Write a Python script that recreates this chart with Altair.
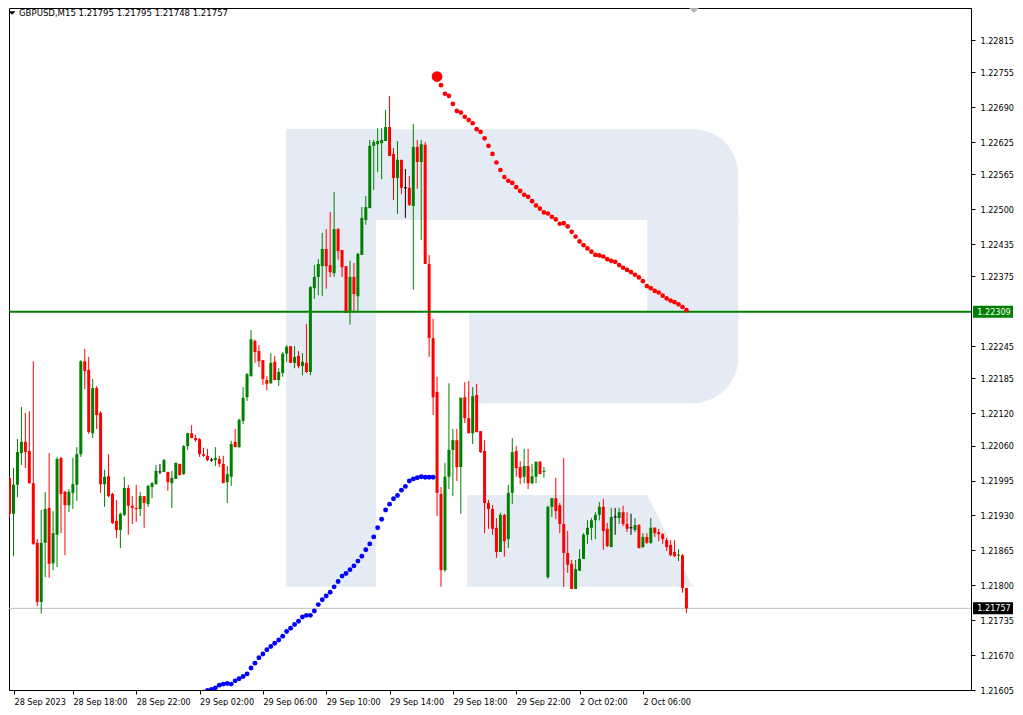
import altair as alt
import pandas as pd
import numpy as np

# ---------------- data (GBPUSD M15, bar 0 = 28 Sep 2023 14:00) ----------------
opens = [
    1.22000, 1.21933, 1.21987, 1.22046, 1.22067, 1.22050, 1.21990, 1.21879, 1.21769, 1.21879,
    1.21944, 1.21841, 1.21894, 1.22037, 1.21974, 1.21949, 1.21972, 1.21987, 1.22044, 1.22217,
    1.22201, 1.22083, 1.22167, 1.22121, 1.21988, 1.22003, 1.21970, 1.21920, 1.21903, 1.21931,
    1.21981, 1.21948, 1.21944, 1.21942, 1.21966, 1.21951, 1.21983, 1.21988, 1.22011, 1.22011,
    1.22011, 1.21990, 1.21998, 1.22026, 1.22007, 1.22059, 1.22083, 1.22074, 1.22072, 1.22044,
    1.22041, 1.22033, 1.22033, 1.22035, 1.22026, 1.21992, 1.22002, 1.22067, 1.22057, 1.22106,
    1.22150, 1.22189, 1.22255, 1.22236, 1.22219, 1.22182, 1.22176, 1.22216, 1.22182, 1.22195,
    1.22231, 1.22245, 1.22214, 1.22227, 1.22208, 1.22214, 1.22197, 1.22353, 1.22374, 1.22394,
    1.22426, 1.22396, 1.22381, 1.22463, 1.22424, 1.22394, 1.22309, 1.22374, 1.22338, 1.22415,
    1.22480, 1.22502, 1.22618, 1.22621, 1.22623, 1.22627, 1.22653, 1.22603, 1.22558, 1.22592,
    1.22540, 1.22540, 1.22506, 1.22616, 1.22588, 1.22620, 1.22398, 1.22260, 1.22160, 1.21970,
    1.21828, 1.22002, 1.22052, 1.22070, 1.22020, 1.22150, 1.22111, 1.22083, 1.22154, 1.22087,
    1.22050, 1.21953, 1.21942, 1.21907, 1.21862, 1.21931, 1.21886, 1.21972, 1.22050, 1.22020,
    1.22002, 1.22022, 1.21990, 1.22002, 1.22030, 1.22011, 1.21815, 1.21946, 1.21962, 1.21949,
    1.21914, 1.21860, 1.21840, 1.21793, 1.21827, 1.21849, 1.21894, 1.21907, 1.21921, 1.21931,
    1.21946, 1.21905, 1.21871, 1.21927, 1.21925, 1.21936, 1.21914, 1.21907, 1.21903, 1.21912,
    1.21871, 1.21890, 1.21879, 1.21907, 1.21899, 1.21895, 1.21884, 1.21875, 1.21862, 1.21855,
    1.21856, 1.21795,
]
highs = [
    1.22002, 1.22018, 1.22072, 1.22132, 1.22121, 1.22124, 1.22217, 1.21886, 1.21940, 1.21974,
    1.22046, 1.21938, 1.22039, 1.22039, 1.21976, 1.21979, 1.22037, 1.22057, 1.22219, 1.22240,
    1.22225, 1.22184, 1.22171, 1.22124, 1.22015, 1.22044, 1.21972, 1.21959, 1.21935, 1.22002,
    1.21987, 1.21966, 1.21987, 1.21974, 1.21966, 1.21987, 1.21992, 1.22024, 1.22026, 1.22035,
    1.22011, 1.22013, 1.22028, 1.22026, 1.22061, 1.22084, 1.22098, 1.22080, 1.22074, 1.22056,
    1.22054, 1.22037, 1.22057, 1.22041, 1.22041, 1.22022, 1.22069, 1.22091, 1.22110, 1.22169,
    1.22195, 1.22275, 1.22257, 1.22247, 1.22219, 1.22189, 1.22232, 1.22227, 1.22204, 1.22234,
    1.22247, 1.22245, 1.22245, 1.22236, 1.22232, 1.22286, 1.22357, 1.22396, 1.22407, 1.22456,
    1.22463, 1.22495, 1.22532, 1.22465, 1.22424, 1.22394, 1.22404, 1.22400, 1.22419, 1.22504,
    1.22525, 1.22629, 1.22629, 1.22651, 1.22651, 1.22685, 1.22711, 1.22614, 1.22627, 1.22592,
    1.22575, 1.22562, 1.22659, 1.22629, 1.22629, 1.22625, 1.22415, 1.22296, 1.22188, 1.21983,
    1.22028, 1.22176, 1.22091, 1.22091, 1.22149, 1.22178, 1.22180, 1.22169, 1.22175, 1.22087,
    1.22070, 1.21959, 1.21949, 1.21925, 1.21935, 1.21933, 1.21987, 1.22074, 1.22059, 1.22031,
    1.22054, 1.22054, 1.22026, 1.22030, 1.22031, 1.22020, 1.21948, 1.21962, 1.22000, 1.21953,
    1.22037, 1.21901, 1.21847, 1.21847, 1.21867, 1.21897, 1.21921, 1.21925, 1.21936, 1.21955,
    1.21961, 1.21916, 1.21944, 1.21944, 1.21944, 1.21948, 1.21936, 1.21933, 1.21925, 1.21914,
    1.21897, 1.21897, 1.21925, 1.21908, 1.21905, 1.21897, 1.21888, 1.21884, 1.21884, 1.21867,
    1.21858, 1.21795,
]
lows = [
    1.21927, 1.21854, 1.21964, 1.22024, 1.22018, 1.21989, 1.21875, 1.21761, 1.21747, 1.21815,
    1.21814, 1.21828, 1.21834, 1.21897, 1.21856, 1.21936, 1.21942, 1.21957, 1.22039, 1.22165,
    1.22082, 1.22074, 1.22091, 1.21972, 1.21946, 1.21964, 1.21914, 1.21888, 1.21869, 1.21929,
    1.21894, 1.21914, 1.21918, 1.21929, 1.21907, 1.21946, 1.21962, 1.21988, 1.22007, 1.22011,
    1.21976, 1.21944, 1.21998, 1.22005, 1.22005, 1.22052, 1.22074, 1.22067, 1.22039, 1.22039,
    1.22031, 1.22030, 1.22022, 1.22020, 1.21990, 1.21953, 1.21985, 1.22057, 1.22056, 1.22100,
    1.22143, 1.22189, 1.22214, 1.22206, 1.22173, 1.22163, 1.22175, 1.22182, 1.22171, 1.22188,
    1.22216, 1.22214, 1.22204, 1.22204, 1.22191, 1.22195, 1.22191, 1.22333, 1.22340, 1.22338,
    1.22352, 1.22374, 1.22374, 1.22406, 1.22374, 1.22307, 1.22285, 1.22307, 1.22310, 1.22415,
    1.22471, 1.22502, 1.22536, 1.22569, 1.22556, 1.22627, 1.22599, 1.22517, 1.22491, 1.22528,
    1.22484, 1.22506, 1.22350, 1.22538, 1.22443, 1.22398, 1.22225, 1.22117, 1.21929, 1.21797,
    1.21825, 1.21979, 1.21966, 1.21994, 1.21933, 1.22102, 1.22083, 1.22063, 1.22085, 1.22046,
    1.21897, 1.21905, 1.21894, 1.21851, 1.21862, 1.21853, 1.21869, 1.21951, 1.22002, 1.21988,
    1.21990, 1.21979, 1.21988, 1.21990, 1.22007, 1.22000, 1.21812, 1.21927, 1.21923, 1.21897,
    1.21797, 1.21823, 1.21793, 1.21793, 1.21827, 1.21849, 1.21877, 1.21884, 1.21886, 1.21921,
    1.21866, 1.21871, 1.21871, 1.21894, 1.21914, 1.21910, 1.21899, 1.21894, 1.21899, 1.21869,
    1.21869, 1.21877, 1.21877, 1.21890, 1.21882, 1.21877, 1.21864, 1.21854, 1.21853, 1.21845,
    1.21786, 1.21748,
]
closes = [
    1.21933, 1.21987, 1.22048, 1.22067, 1.22048, 1.21990, 1.21877, 1.21769, 1.21879, 1.21942,
    1.21840, 1.21897, 1.22035, 1.21970, 1.21949, 1.21974, 1.21988, 1.22044, 1.22217, 1.22199,
    1.22085, 1.22167, 1.22117, 1.21988, 1.22002, 1.21966, 1.21916, 1.21903, 1.21933, 1.21981,
    1.21948, 1.21944, 1.21942, 1.21966, 1.21953, 1.21985, 1.21990, 1.22013, 1.22011, 1.22033,
    1.21992, 1.22000, 1.22028, 1.22005, 1.22059, 1.22083, 1.22074, 1.22070, 1.22044, 1.22041,
    1.22033, 1.22033, 1.22037, 1.22026, 1.21990, 1.22007, 1.22063, 1.22057, 1.22108, 1.22149,
    1.22193, 1.22258, 1.22234, 1.22217, 1.22184, 1.22175, 1.22214, 1.22182, 1.22197, 1.22231,
    1.22244, 1.22214, 1.22225, 1.22208, 1.22216, 1.22197, 1.22355, 1.22374, 1.22398, 1.22426,
    1.22394, 1.22383, 1.22463, 1.22422, 1.22392, 1.22307, 1.22374, 1.22342, 1.22417, 1.22484,
    1.22504, 1.22618, 1.22625, 1.22627, 1.22629, 1.22653, 1.22599, 1.22558, 1.22592, 1.22540,
    1.22540, 1.22508, 1.22616, 1.22588, 1.22621, 1.22398, 1.22260, 1.22150, 1.21972, 1.21828,
    1.22002, 1.22052, 1.22070, 1.22020, 1.22149, 1.22111, 1.22083, 1.22152, 1.22085, 1.22048,
    1.21953, 1.21942, 1.21905, 1.21862, 1.21931, 1.21882, 1.21972, 1.22048, 1.22018, 1.22000,
    1.22022, 1.21990, 1.22003, 1.22030, 1.22007, 1.22013, 1.21946, 1.21962, 1.21938, 1.21914,
    1.21860, 1.21838, 1.21793, 1.21830, 1.21849, 1.21894, 1.21907, 1.21921, 1.21931, 1.21946,
    1.21901, 1.21873, 1.21927, 1.21927, 1.21936, 1.21914, 1.21905, 1.21907, 1.21912, 1.21869,
    1.21890, 1.21879, 1.21907, 1.21897, 1.21895, 1.21886, 1.21871, 1.21856, 1.21854, 1.21857,
    1.21795, 1.21757,
]

# forecast dots (bar index of first dot + one value per bar)
red_big_index = 108
red_big_price = 1.22747
red_start = 109
red_dots = [
    1.22731, 1.22715, 1.22711, 1.22696, 1.22683, 1.22680, 1.22672, 1.22666, 1.22660, 1.22649,
    1.22644, 1.22632, 1.22618, 1.22603, 1.22587, 1.22573, 1.22560, 1.22553, 1.22549, 1.22541,
    1.22534, 1.22527, 1.22523, 1.22515, 1.22507, 1.22501, 1.22494, 1.22492, 1.22486, 1.22481,
    1.22473, 1.22474, 1.22468, 1.22458, 1.22449, 1.22440, 1.22433, 1.22427, 1.22421, 1.22415,
    1.22414, 1.22412, 1.22407, 1.22404, 1.22402, 1.22396, 1.22391, 1.22387, 1.22383, 1.22378,
    1.22373, 1.22366, 1.22357, 1.22353, 1.22348, 1.22345, 1.22339, 1.22334, 1.22330, 1.22327,
    1.22323, 1.22318, 1.22312,
]
blue_start = 49
blue_dots = [
    1.21601, 1.21604, 1.21606, 1.21609, 1.21614, 1.21616, 1.21617, 1.21616, 1.21622, 1.21626,
    1.21630, 1.21635, 1.21646, 1.21655, 1.21665, 1.21672, 1.21680, 1.21686, 1.21692, 1.21698,
    1.21705, 1.21714, 1.21720, 1.21727, 1.21733, 1.21741, 1.21744, 1.21744, 1.21752, 1.21764,
    1.21773, 1.21780, 1.21787, 1.21797, 1.21807, 1.21817, 1.21822, 1.21829, 1.21836, 1.21845,
    1.21854, 1.21866, 1.21877, 1.21890, 1.21907, 1.21923, 1.21940, 1.21951, 1.21961, 1.21967,
    1.21977, 1.21984, 1.21994, 1.21998, 1.22000, 1.22002, 1.22001, 1.22001, 1.22001,
]

tick_index = [0, 16, 32, 48, 64, 80, 96, 112, 128, 144, 160]
tick_labels = ["28 Sep 2023", "28 Sep 18:00", "28 Sep 22:00", "29 Sep 02:00", "29 Sep 06:00",
               "29 Sep 10:00", "29 Sep 14:00", "29 Sep 18:00", "29 Sep 22:00", "2 Oct 02:00",
               "2 Oct 06:00"]
price_ticks = [1.22815, 1.22755, 1.22690, 1.22625, 1.22565, 1.22500, 1.22435, 1.22375,
               1.22245, 1.22185, 1.22120, 1.22060, 1.21995, 1.21930, 1.21865, 1.21800,
               1.21735, 1.21670, 1.21605]

level_price = 1.22309
bid_price = 1.21757
title_text = "GBPUSD,M15  1.21795 1.21795 1.21748 1.21757"

# watermark "R" pieces, in bar-index / price units
wm_stem = {"x1": [69.9], "x2": [92.6], "y1": [1.21797], "y2": [1.22649]}
wm_top = {"x1": [69.9], "x2": [184.1], "y1": [1.22480], "y2": [1.22649]}
wm_right = {"x1": [161.1], "x2": [184.1], "y1": [1.22300], "y2": [1.22490]}
wm_bottom = {"x1": [116.1], "x2": [184.1], "y1": [1.22139], "y2": [1.22310]}
wm_leg = {"p": [1.21968, 1.21797], "xl": [115.6, 115.6], "xr": [161.1, 172.6]}

# ---------------- layout ----------------
W, H = 962, 682
X_DOM = [1.125, 1.125 + W / 4.0]
Y_DOM = [1.21605, 1.228746]
FONT = "DejaVu Sans Condensed, Liberation Sans, sans-serif"
WM = "#E5EBF4"
GREEN = "#008000"
RED = "#FF0000"

xs = alt.Scale(domain=X_DOM, nice=False, zero=False)
ys = alt.Scale(domain=Y_DOM, nice=False, zero=False)
one_px = (Y_DOM[1] - Y_DOM[0]) / H

cdf = pd.DataFrame({"i": np.arange(len(opens)), "o": opens, "h": highs, "l": lows, "c": closes})
cdf["dir"] = np.where(cdf.c > cdf.o, "up", np.where(cdf.c < cdf.o, "down", "flat"))
top = np.maximum(cdf.o, cdf.c)
bot = np.minimum(cdf.o, cdf.c)
mid = (top + bot) / 2
thin = (top - bot) < one_px
cdf["top"] = np.where(thin, mid + one_px / 2, top)
cdf["bot"] = np.where(thin, mid - one_px / 2, bot)

color = alt.Color("dir:N", scale=alt.Scale(domain=["up", "down", "flat"],
                                           range=[GREEN, RED, "#000000"]), legend=None)

tick_vals = [max(t, X_DOM[0]) for t in tick_index]
label_expr = "''"
for v, lab in reversed(list(zip(tick_vals, tick_labels))):
    label_expr = f"(abs(datum.value - {v}) < 0.5) ? '{lab}' : ({label_expr})"

X_AXIS = alt.Axis(values=tick_vals, labelExpr=label_expr, labelAlign="left", labelBaseline="top",
                  labelPadding=3, tickSize=4, labelFont=FONT, labelFontSize=9, labelColor="black",
                  tickColor="black", domainColor="black", grid=False, title=None,
                  labelFlush=False, labelOverlap=False, labelBound=False)
Y_AXIS = alt.Axis(orient="right", values=price_ticks, format=".5f", tickSize=4, labelPadding=5,
                  labelFont=FONT, labelFontSize=9, labelColor="black", tickColor="black",
                  domainColor="black", grid=False, title=None, labelFlush=False,
                  labelOverlap=False, labelBound=False)


def X(field):
    return alt.X(field, scale=xs, axis=X_AXIS)


def Y(field):
    return alt.Y(field, scale=ys, axis=Y_AXIS)


def wm_rect(d, **kw):
    return alt.Chart(pd.DataFrame(d)).mark_rect(color=WM, clip=True, **kw).encode(
        x=X("x1:Q"), x2="x2:Q", y=Y("y1:Q"), y2="y2:Q")


layers = [
    wm_rect(wm_stem),
    wm_rect(wm_top, cornerRadiusTopRight=84),
    wm_rect(wm_right),
    wm_rect(wm_bottom, cornerRadiusBottomRight=84),
    alt.Chart(pd.DataFrame(wm_leg)).mark_area(orient="horizontal", color=WM, clip=True).encode(
        y=Y("p:Q"), x=X("xl:Q"), x2="xr:Q"),
    alt.Chart(pd.DataFrame({"p": [bid_price]})).mark_rule(color="#C0C0C0", strokeWidth=1).encode(
        y=Y("p:Q")),
    alt.Chart(cdf).mark_rule(strokeWidth=1, clip=True).encode(
        x=X("i:Q"), y=Y("h:Q"), y2="l:Q", color=color),
    alt.Chart(cdf).mark_bar(size=3, clip=True).encode(
        x=X("i:Q"), y=Y("top:Q"), y2="bot:Q", color=color),
    alt.Chart(pd.DataFrame({"p": [level_price]})).mark_rule(color=GREEN, strokeWidth=2).encode(
        y=Y("p:Q")),
    alt.Chart(pd.DataFrame({"i": np.arange(blue_start, blue_start + len(blue_dots)), "p": blue_dots}))
    .mark_circle(size=24, color="#0000FF", opacity=1, clip=True).encode(x=X("i:Q"), y=Y("p:Q")),
    alt.Chart(pd.DataFrame({"i": np.arange(red_start, red_start + len(red_dots)), "p": red_dots}))
    .mark_circle(size=22, color=RED, opacity=1, clip=True).encode(x=X("i:Q"), y=Y("p:Q")),
    alt.Chart(pd.DataFrame({"i": [red_big_index], "p": [red_big_price]}))
    .mark_circle(size=115, color=RED, opacity=1, clip=True).encode(x=X("i:Q"), y=Y("p:Q")),
]

levels = pd.DataFrame({"p": [level_price, bid_price], "bg": [GREEN, "#000000"]})
levels["lo"] = levels.p - 6 * one_px
levels["hi"] = levels.p + 6 * one_px
layers.append(alt.Chart(levels).mark_rect().encode(
    x=alt.value(W + 2), x2=alt.value(W + 42),
    y=Y("lo:Q"), y2="hi:Q",
    color=alt.Color("bg:N", scale=None, legend=None)))
layers.append(alt.Chart(levels).mark_text(color="white", font=FONT, fontSize=9, align="center",
                                          baseline="middle").encode(
    x=alt.value(W + 23), y=Y("p:Q"), text=alt.Text("p:Q", format=".5f")))

layers.append(alt.Chart(pd.DataFrame({"t": [title_text]})).mark_text(
    align="left", baseline="middle", font=FONT, fontSize=9.5, color="black").encode(
    x=alt.value(10), y=alt.value(5), text="t:N"))
layers.append(alt.Chart(pd.DataFrame({"k": [0]})).mark_point(
    shape="M-1,-0.5L1,-0.5L0,0.5Z", size=49, filled=True, color="black", opacity=1).encode(
    x=alt.value(3), y=alt.value(5)))
layers.append(alt.Chart(pd.DataFrame({"k": [0]})).mark_point(
    shape="M-1,-0.5L1,-0.5L0,0.5Z", size=100, filled=True, color="#B4B4B4", opacity=1).encode(
    x=alt.value(685), y=alt.value(2.5)))

chart = alt.layer(*layers).properties(
    width=W, height=H, padding=0, background="white"
).configure_view(stroke="black", strokeWidth=1)

chart.save("out.html", embed_options={"renderer": "svg", "actions": False})
